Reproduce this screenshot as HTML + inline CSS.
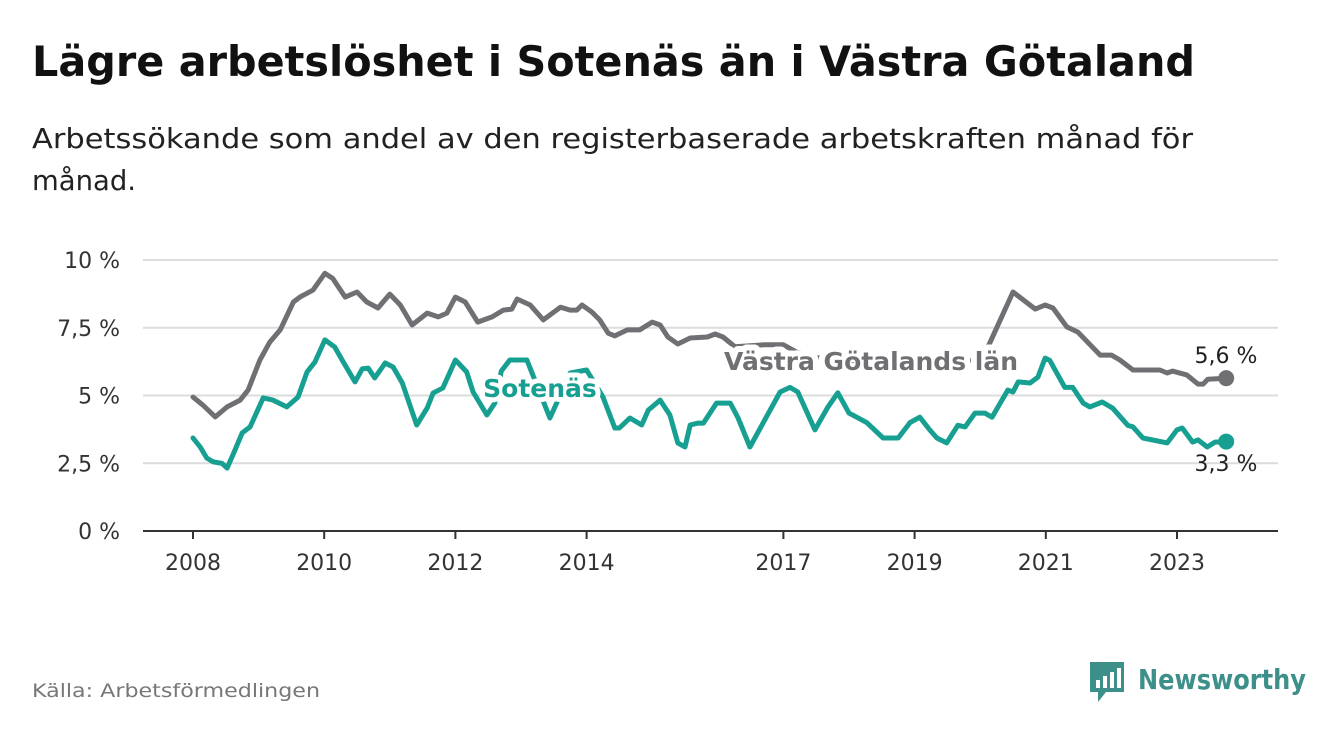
<!DOCTYPE html>
<html><head><meta charset="utf-8"><style>
body{margin:0;background:#fff;font-family:"DejaVu Sans","Liberation Sans",sans-serif;}
</style></head><body>
<svg width="1340" height="734" viewBox="0 0 1340 734" xmlns="http://www.w3.org/2000/svg" font-family="DejaVu Sans, Liberation Sans, sans-serif">
<text x="32" y="76" font-size="42" font-weight="bold" fill="#111" textLength="1163" lengthAdjust="spacingAndGlyphs">Lägre arbetslöshet i Sotenäs än i Västra Götaland</text>
<text x="32" y="148" font-size="28" fill="#222" textLength="1161" lengthAdjust="spacingAndGlyphs">Arbetssökande som andel av den registerbaserade arbetskraften månad för</text>
<text x="32" y="190" font-size="28" fill="#222" textLength="104" lengthAdjust="spacingAndGlyphs">månad.</text>
<g id="grid"></g><g id="axes"></g><g id="lines"></g><g id="labels"></g>
<text x="32" y="697" font-size="19" fill="#777" textLength="288" lengthAdjust="spacingAndGlyphs">Källa: Arbetsförmedlingen</text>
<g>
<path d="M1090 662 h34 v30 h-18 l-8 10 v-10 h-8 z" fill="#3d8f8a"/>
<rect x="1096" y="680" width="4" height="8" fill="#fff"/><rect x="1103" y="676" width="4" height="12" fill="#fff"/><rect x="1110" y="672" width="4" height="16" fill="#fff"/><rect x="1117" y="668" width="4" height="20" fill="#fff"/>
<text x="1138" y="689" font-size="28" font-weight="bold" fill="#3d8f8a" textLength="168" lengthAdjust="spacingAndGlyphs">Newsworthy</text>
</g>
</svg>
<script>
const yTicks=[0,2.5,5,7.5,10];
const yTickLabels=["0 %","2,5 %","5 %","7,5 %","10 %"];
const xTicks=[2008,2010,2012,2014,2017,2019,2021,2023];
const grayT=[2008.0,2008.15,2008.34,2008.52,2008.72,2008.84,2009.02,2009.17,2009.33,2009.53,2009.63,2009.83,2010.01,2010.13,2010.32,2010.5,2010.65,2010.82,2011.0,2011.16,2011.34,2011.57,2011.74,2011.87,2012.0,2012.15,2012.34,2012.56,2012.73,2012.86,2012.94,2013.14,2013.34,2013.6,2013.75,2013.85,2013.93,2014.08,2014.2,2014.33,2014.43,2014.62,2014.81,2015.0,2015.12,2015.24,2015.39,2015.58,2015.84,2015.96,2016.08,2016.26,2016.7,2017.0,2017.2,2017.5,2018.0,2018.5,2019.0,2019.5,2019.9,2020.12,2020.5,2020.84,2020.99,2021.11,2021.32,2021.49,2021.83,2022.0,2022.13,2022.33,2022.74,2022.85,2022.93,2023.15,2023.32,2023.4,2023.47,2023.75];
const grayV=[4.94,4.65,4.21,4.58,4.83,5.2,6.31,6.97,7.42,8.45,8.63,8.89,9.51,9.32,8.63,8.82,8.45,8.23,8.74,8.34,7.6,8.04,7.9,8.04,8.63,8.45,7.71,7.9,8.15,8.19,8.56,8.34,7.79,8.26,8.15,8.15,8.34,8.08,7.79,7.3,7.2,7.42,7.42,7.71,7.6,7.16,6.9,7.12,7.16,7.27,7.16,6.8,6.87,6.87,6.6,6.4,6.3,6.2,6.2,6.2,6.3,6.8,8.82,8.19,8.34,8.23,7.53,7.34,6.49,6.49,6.31,5.94,5.94,5.83,5.9,5.76,5.42,5.42,5.6,5.64];
const tealT=[2008.0,2008.11,2008.21,2008.31,2008.44,2008.52,2008.64,2008.75,2008.87,2009.07,2009.22,2009.43,2009.6,2009.74,2009.86,2010.01,2010.16,2010.29,2010.47,2010.58,2010.67,2010.77,2010.93,2011.05,2011.19,2011.41,2011.57,2011.66,2011.81,2012.0,2012.17,2012.27,2012.48,2012.6,2012.7,2012.83,2013.09,2013.18,2013.44,2013.75,2014.0,2014.25,2014.43,2014.5,2014.66,2014.84,2014.94,2015.12,2015.27,2015.39,2015.5,2015.58,2015.7,2015.78,2015.98,2016.19,2016.31,2016.49,2016.95,2017.1,2017.22,2017.48,2017.68,2017.83,2018.0,2018.27,2018.52,2018.75,2018.93,2019.08,2019.23,2019.34,2019.49,2019.66,2019.77,2019.92,2020.07,2020.18,2020.42,2020.5,2020.58,2020.76,2020.88,2020.99,2021.06,2021.29,2021.41,2021.57,2021.67,2021.86,2022.02,2022.25,2022.33,2022.48,2022.85,2023.0,2023.08,2023.24,2023.32,2023.46,2023.58,2023.75];
const tealV=[3.43,3.1,2.69,2.55,2.5,2.32,2.99,3.62,3.84,4.91,4.83,4.58,4.94,5.87,6.24,7.05,6.79,6.24,5.5,5.98,6.01,5.65,6.2,6.05,5.46,3.91,4.54,5.09,5.28,6.31,5.87,5.13,4.28,4.72,5.9,6.31,6.31,5.76,4.17,5.83,5.94,4.94,3.8,3.8,4.17,3.91,4.46,4.83,4.28,3.25,3.1,3.91,3.98,3.98,4.72,4.72,4.17,3.1,5.13,5.3,5.13,3.73,4.58,5.1,4.35,4.0,3.43,3.43,4.0,4.2,3.73,3.43,3.25,3.9,3.84,4.35,4.35,4.2,5.2,5.13,5.5,5.46,5.68,6.38,6.3,5.3,5.3,4.72,4.58,4.76,4.53,3.9,3.84,3.43,3.25,3.73,3.8,3.28,3.36,3.1,3.28,3.3];
const NS="http://www.w3.org/2000/svg";
const x=t=>193+(t-2008)*65.6;
const y=v=>531-v*27.1;
function mk(tag,attrs,parent){const e=document.createElementNS(NS,tag);for(const k in attrs)e.setAttribute(k,attrs[k]);parent.appendChild(e);return e;}
const grid=document.getElementById('grid'),axes=document.getElementById('axes'),lines=document.getElementById('lines'),labels=document.getElementById('labels');
yTicks.forEach((v,i)=>{
 if(v>0){const g=mk('line',{x1:143,x2:1278,y1:y(v),y2:y(v),stroke:'#dcdcdc','stroke-width':2},grid);
 
 }
 const t=mk('text',{x:120,y:y(v)+8,'text-anchor':'end','font-size':22,fill:'#333'},axes);t.textContent=yTickLabels[i];
 
 
});
const ax=mk('line',{x1:143,x2:1278,y1:531,y2:531,stroke:'#333','stroke-width':2},axes);


xTicks.forEach(t=>{
 const tk=mk('line',{x1:x(t),x2:x(t),y1:531,y2:539,stroke:'#333','stroke-width':2},axes);
 
 
 const l=mk('text',{x:x(t),y:570,'text-anchor':'middle','font-size':22,fill:'#333'},axes);l.textContent=t;
 
 
});
function series(T,V,color,name){
 const d=T.map((t,i)=>(i?'L':'M')+x(t).toFixed(1)+' '+y(V[i]).toFixed(1)).join(' ');
 const p=mk('path',{d:d,fill:'none',stroke:color,'stroke-width':5,'stroke-linejoin':'round','stroke-linecap':'round'},lines);
 
 
 const n=T.length-1;
 const c=mk('circle',{cx:x(T[n]),cy:y(V[n]),r:8,fill:color},lines);
 
 
}
series(grayT,grayV,'#707074','vastra-gotaland');
series(tealT,tealV,'#17a091','sotenas');
function lbl(txt,px,py,color,anchor,bold,size,halo,name){
 const t=mk('text',{x:px,y:py,'text-anchor':anchor,'font-size':size,'font-weight':bold?'bold':'normal',fill:color,stroke:'#fff','stroke-width':halo,'paint-order':'stroke','stroke-linejoin':'round'},labels);
 t.textContent=txt;
 
 
}
lbl('Sotenäs',540,397,'#17a091','middle',true,25,10,'sotenas-label');
lbl('Västra Götalands län',871,370,'#707074','middle',true,25,12,'vastra-gotaland-label');
const gl=grayV.length-1, tl=tealV.length-1;
lbl(grayV[gl].toFixed(1).replace('.',',')+' %',1226,363,'#222','middle',false,22,0,'vastra-gotaland-end-value');
lbl(tealV[tl].toFixed(1).replace('.',',')+' %',1226,471,'#222','middle',false,22,0,'sotenas-end-value');
</script>
</body></html>
